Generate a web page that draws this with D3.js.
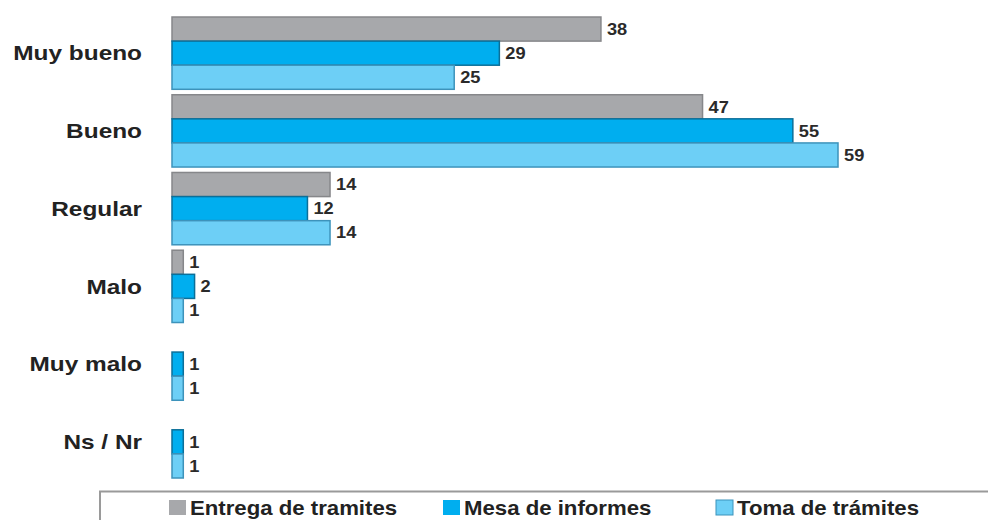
<!DOCTYPE html>
<html>
<head>
<meta charset="utf-8">
<script src="https://cdn.jsdelivr.net/npm/d3@7"></script>
<style>
  body { margin: 0; background: #fff; }
  svg { display: block; }
</style>
</head>
<body>
<svg id="chart" width="988" height="520"></svg>
<script>
// categories and series
const categories = ["Muy bueno", "Bueno", "Regular", "Malo", "Muy malo", "Ns / Nr"];
const seriesNames = ["Entrega de tramites", "Mesa de informes", "Toma de trámites"];
const entrega = [38, 47, 14, 1, null, null];
const mesa = [29, 55, 12, 2, 1, 1];
const toma = [25, 59, 14, 1, 1, 1];

const fills = ["#a7a8ab", "#00aeef", "#6dcff6"];
const strokes = ["#86878a", "#0b6f99", "#3d93bb"];

const seriesValues = [entrega, mesa, toma];
const rows = [];
categories.forEach((c, i) => {
  seriesValues.forEach((vals, s) => {
    if (vals[i] != null) rows.push({ cat: c, series: seriesNames[s], s: s, value: vals[i] });
  });
});

const svg = d3.select("#chart");

const x = d3.scaleLinear()
  .domain([0, d3.max(rows, d => d.value)])
  .range([172, 838]);

const y0 = d3.scaleBand()
  .domain(categories)
  .range([17, 478])
  .paddingInner(0.07)
  .paddingOuter(0);

const y1 = d3.scaleBand()
  .domain(seriesNames)
  .range([0, y0.bandwidth()])
  .padding(0);

// the original lettering is a wide Helvetica bold, so stretch Liberation Sans a bit
const font = "'Liberation Sans', Arial, Helvetica, sans-serif";

// category labels
svg.append("g")
  .selectAll("text")
  .data(categories)
  .join("text")
  .attr("transform", d => `translate(142,${y0(d) + y0.bandwidth() / 2}) scale(1.22,1)`)
  .attr("dy", "0.36em")
  .attr("text-anchor", "end")
  .attr("font-family", font)
  .attr("font-weight", "bold")
  .attr("font-size", "20px")
  .attr("fill", "#222")
  .text(d => d);

// bars
const bars = svg.append("g");
bars.selectAll("rect")
  .data(rows)
  .join("rect")
  .attr("x", x(0))
  .attr("y", d => y0(d.cat) + y1(d.series))
  .attr("width", d => x(d.value) - x(0))
  .attr("height", y1.bandwidth())
  .attr("fill", d => fills[d.s])
  .attr("stroke", d => strokes[d.s])
  .attr("stroke-width", 1.5);

// value labels
bars.selectAll("text")
  .data(rows)
  .join("text")
  .attr("transform", d => `translate(${x(d.value) + 6},${y0(d.cat) + y1(d.series) + y1.bandwidth() / 2}) scale(1.14,1)`)
  .attr("dy", "0.36em")
  .attr("font-family", font)
  .attr("font-weight", "bold")
  .attr("font-size", "16px")
  .attr("fill", "#2a2a2a")
  .text(d => d.value);

// legend box
const legend = svg.append("g");
legend.append("path")
  .attr("d", "M100,520 V491.5 H988")
  .attr("fill", "none")
  .attr("stroke", "#9a9a9a")
  .attr("stroke-width", 2);

const legendX = [169, 443, 716];
const items = legend.selectAll("g.item")
  .data(seriesNames)
  .join("g")
  .attr("class", "item")
  .attr("transform", (d, i) => `translate(${legendX[i]},0)`);

items.append("rect")
  .attr("x", 0)
  .attr("y", 500)
  .attr("width", 17)
  .attr("height", 15)
  .attr("fill", (d, i) => fills[i])
  .attr("stroke", (d, i) => i === 2 ? strokes[i] : "none");

items.append("text")
  .attr("transform", "translate(21,515) scale(1.11,1)")
  .attr("font-family", font)
  .attr("font-weight", "bold")
  .attr("font-size", "20px")
  .attr("fill", "#222")
  .text(d => d);
</script>
</body>
</html>
